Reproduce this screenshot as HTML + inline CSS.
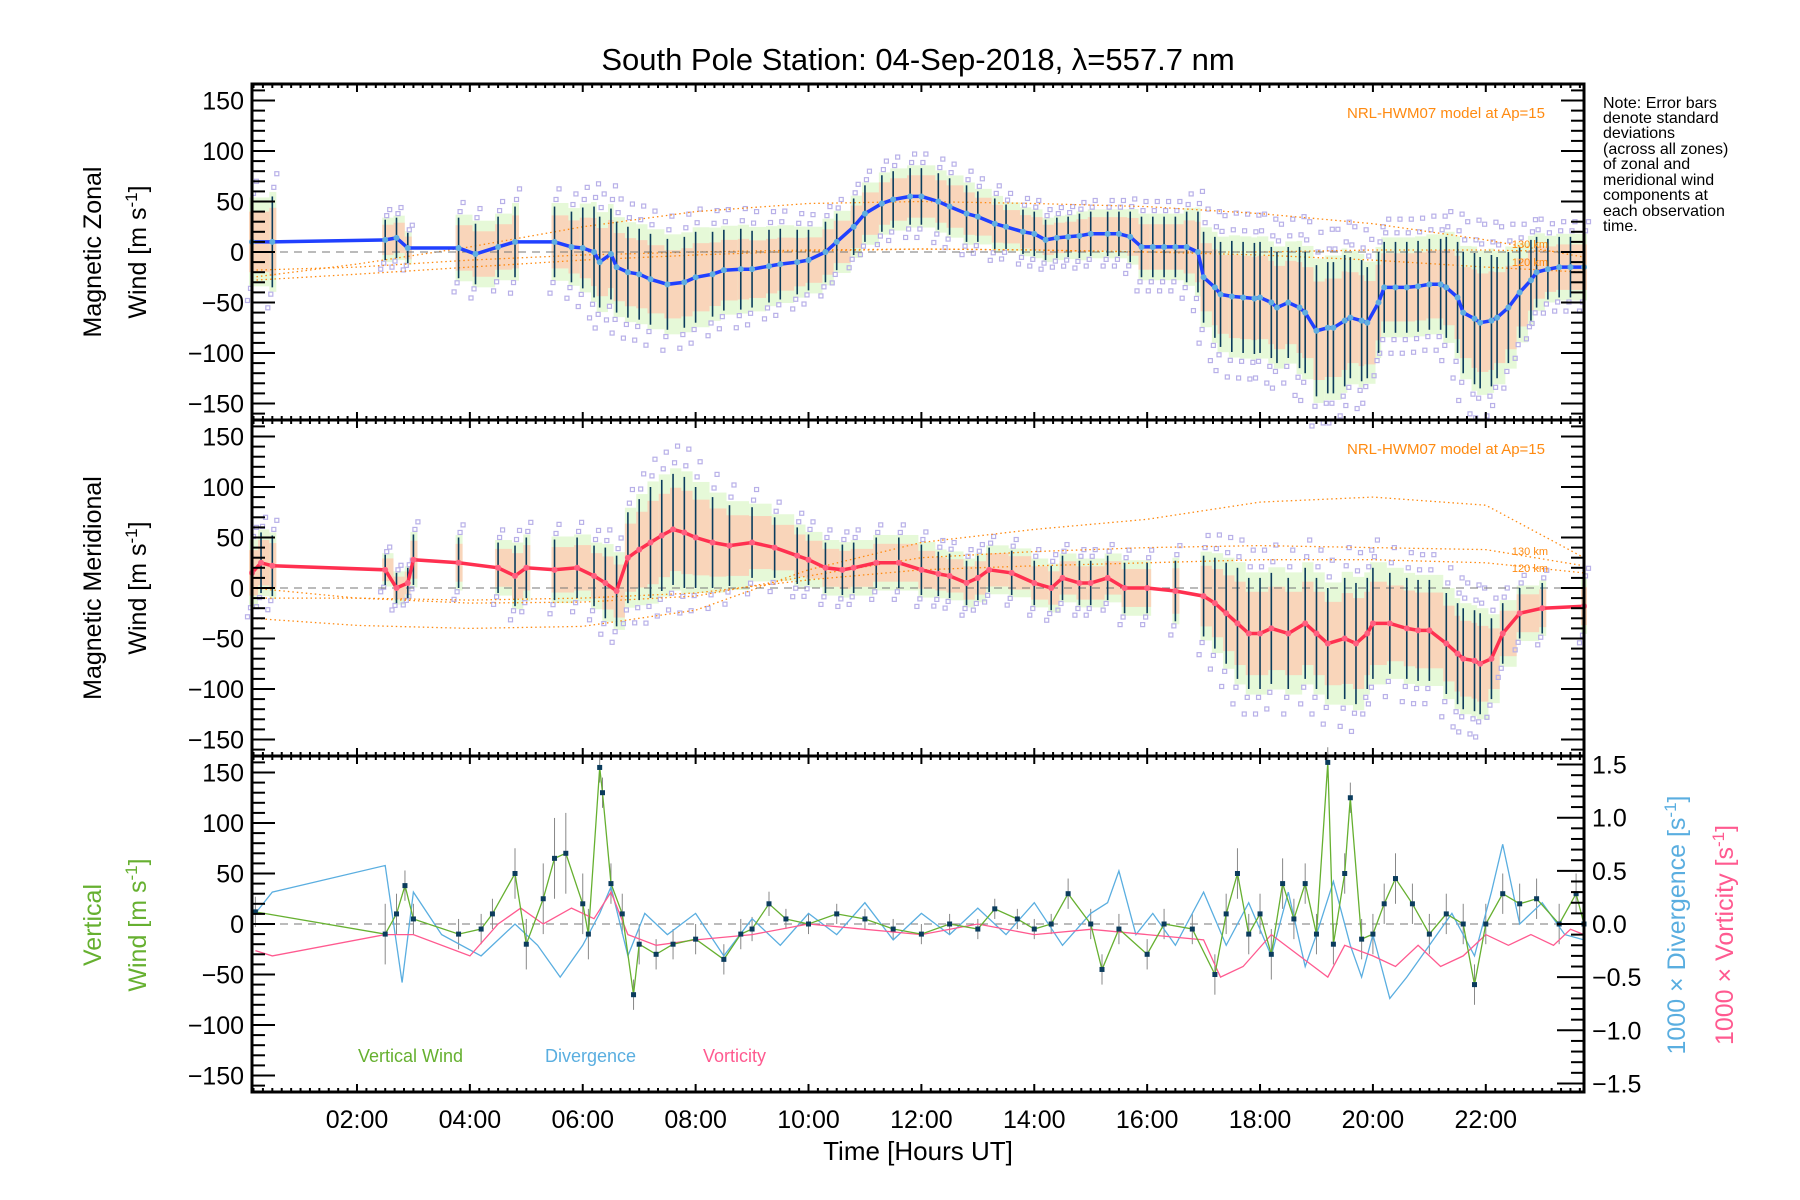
<!DOCTYPE html>
<html><head><meta charset="utf-8"><style>
html,body{margin:0;padding:0;background:#fff;}
svg{display:block;font-family:"Liberation Sans",sans-serif;}
</style></head><body>
<svg id="chart" width="1800" height="1200" viewBox="0 0 1800 1200" xmlns="http://www.w3.org/2000/svg">
<text x="918" y="70" font-size="31" text-anchor="middle">South Pole Station: 04-Sep-2018, λ=557.7 nm</text>
<g id="note" font-size="16" fill="#000">
<text x="1603" y="108">Note: Error bars</text><text x="1603" y="123">denote standard</text><text x="1603" y="138">deviations</text><text x="1603" y="154">(across all zones)</text><text x="1603" y="169">of zonal and</text><text x="1603" y="185">meridional wind</text><text x="1603" y="200">components at</text><text x="1603" y="216">each observation</text><text x="1603" y="231">time.</text>
</g>
<g id="plots"></g>
<text x="918" y="1160" font-size="26" text-anchor="middle">Time [Hours UT]</text>
<g font-size="25">
<text transform="translate(101,252) rotate(-90)" text-anchor="middle">Magnetic Zonal</text>
<text transform="translate(146,252) rotate(-90)" text-anchor="middle">Wind [m s<tspan dy="-9" font-size="17">-1</tspan><tspan dy="9">]</tspan></text>
</g>
<g font-size="25">
<text transform="translate(101,588) rotate(-90)" text-anchor="middle">Magnetic Meridional</text>
<text transform="translate(146,588) rotate(-90)" text-anchor="middle">Wind [m s<tspan dy="-9" font-size="17">-1</tspan><tspan dy="9">]</tspan></text>
</g>
<g font-size="25" fill="#66b030">
<text transform="translate(101,925) rotate(-90)" text-anchor="middle">Vertical</text>
<text transform="translate(146,925) rotate(-90)" text-anchor="middle">Wind [m s<tspan dy="-9" font-size="17">-1</tspan><tspan dy="9">]</tspan></text>
</g>
<text font-size="25" fill="#5aaee0" transform="translate(1685,925) rotate(-90)" text-anchor="middle">1000 × Divergence [s<tspan dy="-9" font-size="17">-1</tspan><tspan dy="9">]</tspan></text>
<text font-size="25" fill="#ff5a90" transform="translate(1733,935) rotate(-90)" text-anchor="middle">1000 × Vorticity [s<tspan dy="-9" font-size="17">-1</tspan><tspan dy="9">]</tspan></text>
<text x="358" y="1062" font-size="18" fill="#66b030">Vertical Wind</text>
<text x="545" y="1062" font-size="18" fill="#5aaee0">Divergence</text>
<text x="703" y="1062" font-size="18" fill="#ff5a90">Vorticity</text>
</svg>
<script>
// ---- data ----
const zonalTimes=[0.14,0.5,2.5,2.7,2.9,3.8,4.1,4.5,4.8,5.5,5.8,6.0,6.2,6.3,6.5,6.6,6.8,7.0,7.2,7.5,7.8,8.0,8.3,8.5,8.8,9.0,9.3,9.5,9.8,10.0,10.3,10.5,10.8,11.0,11.3,11.5,11.8,12.0,12.3,12.5,12.8,13.0,13.3,13.5,13.8,14.0,14.2,14.4,14.6,14.8,15.0,15.3,15.5,15.7,15.9,16.1,16.3,16.5,16.7,16.9,17.0,17.2,17.3,17.5,17.7,17.9,18.0,18.2,18.3,18.5,18.7,18.8,19.0,19.2,19.3,19.5,19.6,19.8,19.9,20.1,20.2,20.4,20.6,20.8,21.0,21.2,21.3,21.5,21.6,21.8,21.9,22.1,22.2,22.4,22.6,22.8,22.9,23.1,23.3,23.5,23.74];
const zonalMean=[10,10,12,14,4,4,-2,5,10,10,5,4,0,-10,-2,-15,-20,-22,-27,-32,-30,-25,-22,-18,-17,-17,-14,-12,-10,-8,0,10,25,38,48,52,55,55,50,45,38,35,28,25,20,18,12,14,15,16,18,18,18,15,5,5,5,5,5,0,-25,-35,-42,-44,-45,-46,-45,-50,-55,-50,-55,-60,-78,-75,-75,-68,-65,-68,-70,-50,-35,-35,-35,-34,-32,-32,-35,-45,-60,-66,-70,-68,-65,-55,-40,-28,-20,-17,-15,-15,-15];
const zonalSigma=[40,45,20,20,15,30,30,30,35,35,35,40,45,45,45,45,45,45,45,45,45,45,42,40,40,38,36,35,32,30,30,28,28,28,28,28,28,28,28,28,28,25,25,22,22,22,20,20,20,22,22,22,22,25,30,30,30,30,35,40,45,50,52,55,55,55,55,55,55,55,60,60,65,65,65,65,60,60,55,50,45,45,45,45,45,45,50,55,60,65,65,65,60,55,45,40,35,30,30,30,30];
const meridTimes=[0.14,0.3,0.5,2.5,2.7,2.9,3.0,3.8,4.5,4.8,5.0,5.5,5.9,6.2,6.4,6.6,6.8,7.0,7.2,7.4,7.6,7.8,8.0,8.3,8.6,9.0,9.4,9.8,10.0,10.3,10.6,10.8,11.2,11.6,12.0,12.3,12.5,12.8,13.0,13.2,13.6,14.0,14.3,14.5,14.8,15.0,15.3,15.6,16.0,16.5,17.0,17.2,17.4,17.6,17.8,18.0,18.2,18.5,18.8,19.0,19.2,19.5,19.7,19.9,20.0,20.3,20.6,20.8,21.0,21.3,21.5,21.6,21.8,21.9,22.1,22.3,22.6,23.0,23.74];
const meridMean=[15,25,22,18,0,5,28,25,20,12,20,18,20,12,5,-3,30,38,45,52,58,55,50,45,42,45,40,32,28,20,18,20,25,25,18,14,12,5,10,18,15,5,0,10,5,5,10,0,0,-3,-8,-15,-25,-35,-45,-45,-40,-45,-35,-45,-55,-50,-55,-45,-35,-35,-40,-42,-42,-55,-65,-70,-72,-75,-70,-45,-25,-20,-18];
const meridSigma=[30,30,30,15,15,15,25,25,25,30,30,30,30,30,35,35,45,50,55,55,55,55,50,45,40,35,30,28,25,25,25,25,25,25,25,22,22,22,22,22,22,22,22,22,22,22,22,25,25,30,40,45,50,55,55,55,55,55,55,55,55,60,60,55,55,50,50,50,50,50,50,50,50,50,40,30,25,25,25];
const zonalModelTimes=[0.14,2,4,6,8,10,12,14,16,18,20,22,23.74];
const zonalModelA=[-25,-12,5,25,40,48,50,48,45,38,28,12,-5];
const zonalModelB=[-18,-15,-8,-3,0,2,3,2,0,0,2,2,0];
const zonalModelC=[-28,-22,-15,-8,-3,1,3,2,0,-3,-8,-15,-20];
const meridModelTimes=[0.14,2,4,6,8,10,12,14,16,18,20,22,23.74];
const meridModelA=[-30,-37,-40,-38,-22,18,45,58,68,85,90,82,30];
const meridModelB=[0,-10,-15,-14,-8,12,30,36,40,42,40,38,22];
const meridModelC=[-10,-10,-12,-10,-5,8,18,22,25,28,28,25,15];
const vertTimes=[0.2,2.5,2.7,2.85,3.0,3.8,4.2,4.4,4.8,5.0,5.3,5.5,5.7,6.0,6.1,6.3,6.35,6.5,6.7,6.9,7.0,7.3,7.6,8.0,8.5,8.8,9.0,9.3,9.6,10.0,10.5,11.0,11.5,12.0,12.5,13.0,13.3,13.7,14.0,14.3,14.6,15.0,15.2,15.5,16.0,16.3,16.8,17.2,17.4,17.6,17.8,18.0,18.2,18.4,18.6,18.8,19.0,19.2,19.3,19.5,19.6,19.8,20.0,20.2,20.4,20.7,21.0,21.3,21.6,21.8,22.0,22.3,22.6,22.9,23.3,23.6,23.74];
const vertWind=[12,-10,10,38,5,-10,-5,10,50,-20,25,65,70,20,-10,155,130,40,10,-70,-20,-30,-20,-15,-35,-10,-5,20,5,0,10,5,-5,-10,0,-5,15,5,-5,0,30,0,-45,-5,-30,0,-5,-50,10,50,-10,10,-30,40,5,40,-10,160,-20,50,125,-15,-10,20,45,20,-10,10,0,-60,0,30,20,25,0,30,0];
const vertErr=[15,30,20,15,15,15,15,15,25,25,35,40,40,30,25,15,15,20,20,15,20,15,15,15,15,15,12,12,10,10,10,10,10,10,10,10,10,10,10,10,15,15,15,15,15,15,15,20,20,25,20,20,25,25,20,20,20,15,20,20,15,20,20,20,25,20,20,20,20,20,20,20,20,20,20,20,20];
const divTimes=[0.2,0.5,2.5,2.8,3.0,3.5,4.2,4.8,5.2,5.6,6.0,6.3,6.5,6.8,7.1,7.5,8.0,8.5,9.0,9.5,10.0,10.5,11.0,11.5,12.0,12.5,13.0,13.5,14.0,14.5,15.0,15.3,15.5,15.8,16.1,16.5,17.0,17.4,17.8,18.2,18.5,18.8,19.0,19.3,19.6,19.8,20.0,20.3,20.6,21.0,21.4,21.8,22.1,22.3,22.6,23.0,23.4,23.74];
const divergence=[0.1,0.3,0.55,-0.55,0.3,-0.1,-0.3,0,-0.2,-0.5,-0.2,0.1,0.35,-0.3,0.1,-0.1,0.1,-0.3,0.05,-0.2,0.1,-0.1,0.2,-0.15,0.1,-0.1,0.15,-0.1,0.2,-0.2,0.1,0.2,0.5,-0.1,0.1,-0.2,0.3,-0.2,0.2,-0.3,0.3,-0.4,-0.1,0.4,-0.2,-0.5,-0.1,-0.7,-0.5,-0.2,0.1,-0.3,0.3,0.75,0,0.2,-0.1,-0.15];
const vortTimes=[0.2,0.5,2.5,3.0,4.0,4.5,4.9,5.3,5.8,6.2,6.5,6.8,7.3,8.0,9.0,10.0,11.0,12.0,13.0,14.0,15.0,16.0,17.0,17.3,17.7,18.2,18.7,19.2,19.5,20.0,20.4,20.8,21.2,21.6,22.0,22.4,22.8,23.2,23.5,23.74];
const vorticity=[-0.25,-0.3,-0.1,-0.1,-0.3,0,0.15,0,0.15,0.05,0.3,-0.1,-0.2,-0.15,-0.1,0,-0.05,-0.1,0,-0.1,-0.05,-0.1,-0.15,-0.5,-0.4,-0.1,-0.3,-0.5,-0.2,-0.3,-0.4,-0.2,-0.4,-0.3,-0.1,-0.2,-0.1,-0.2,-0.05,-0.1];
const leftTicks=[-150,-100,-50,0,50,100,150];
const rightTicks=[-1.5,-1.0,-0.5,0.0,0.5,1.0,1.5];
const hourTicks=[2,4,6,8,10,12,14,16,18,20,22];
const hourLabels=["02:00","04:00","06:00","08:00","10:00","12:00","14:00","16:00","18:00","20:00","22:00"];

// ---- geometry ----
const L=252,R=1584,T0=0.14,T1=23.74;
const panelTops=[84,420,756],PH=336;
const NS="http://www.w3.org/2000/svg";
const root=document.getElementById('plots');
function x(t){return L+(t-T0)/(T1-T0)*(R-L);}
function yL(top,v){return top+PH/2-v*1.01;}
function yR(top,v){return top+PH/2-v*106.3;}
function el(tag,attrs,parent){const e=document.createElementNS(NS,tag);for(const k in attrs)e.setAttribute(k,attrs[k]);(parent||root).appendChild(e);return e;}
function poly(ts,vs,f,style,parent){return el('polyline',Object.assign({points:ts.map((t,i)=>x(t).toFixed(1)+','+f(vs[i]).toFixed(1)).join(' '),fill:'none'},style),parent);}

function windPanel(i,times,mean,sigma,mA,mB,mC,mT,lineColor,dotColor,name){
  const top=panelTops[i];const g=el('g',{});
  
  
  const f=v=>yL(top,v);
  // pastel bands
  times.forEach((t,k)=>{
    let w=k<times.length-1?x(times[k+1])-x(t):6;
    if(w>25)w=7;
    w=Math.max(4,w);
    const bw=el('rect',{x:x(t)-3,y:f(mean[k]+sigma[k]*1.1),width:w,height:sigma[k]*2.2*1.01,fill:'#dcf6c8',opacity:0.7},g);
    
    
    const b=el('rect',{x:x(t)-3,y:f(mean[k]+sigma[k]*0.75),width:w,height:sigma[k]*1.5*1.01,fill:'#ffc8b0',opacity:0.75},g);
    
    
  });
  // scatter
  const offs=[-1.45,-1.15,1.2,1.5];
  times.forEach((t,k)=>{offs.forEach((o,j)=>{
    const s=el('rect',{x:x(t)+(j-1.5)*3-2,y:f(mean[k]+sigma[k]*o)-2,width:4,height:4,fill:'none',stroke:'#b8b0e8','stroke-width':1.2},g);
    
    
  });});
  // models
  [mA,mB,mC].forEach(m=>{const p=poly(mT,m,f,{stroke:'#ff8a10','stroke-width':1.3,'stroke-dasharray':'1.5,3'},g);
    
    });
  // zero line
  const z=el('line',{x1:L,x2:R,y1:f(0),y2:f(0),stroke:'#777','stroke-dasharray':'8,6','stroke-width':1},g);
  
  
  // error bars
  times.forEach((t,k)=>{
    const b=el('line',{x1:x(t),x2:x(t),y1:f(mean[k]+sigma[k]),y2:f(mean[k]-sigma[k]),stroke:'#0b3c5d','stroke-width':1.6},g);
    
    
  });
  const ln=poly(times,mean,f,{stroke:lineColor,'stroke-width':3.5},g);
  
  
  times.forEach((t,k)=>{const c=el('circle',{cx:x(t),cy:f(mean[k]),r:3,fill:dotColor},g);
    
    });
  const mt=el('text',{x:1545,y:top+34,'font-size':15,fill:'#ff8a10','text-anchor':'end'},g);
  mt.textContent='NRL-HWM07 model at Ap=15';
  
  
}
windPanel(0,zonalTimes,zonalMean,zonalSigma,zonalModelA,zonalModelB,zonalModelC,zonalModelTimes,'#2040ff','#60aee0','zonal');
windPanel(1,meridTimes,meridMean,meridSigma,meridModelA,meridModelB,meridModelC,meridModelTimes,'#ff3050','#ff6080','meridional');
// km labels
[[0,248,'130 km'],[0,266,'120 km'],[1,555,'130 km'],[1,572,'120 km']].forEach(a=>{const t=el('text',{x:1548,y:a[1],'font-size':11,fill:'#ff8a10','text-anchor':'end'});t.textContent=a[2];
  
  });

// panel 3
(function(){
  const top=panelTops[2];const g=el('g',{});
  
  
  const fl=v=>yL(top,v),fr=v=>yR(top,v);
  const z=el('line',{x1:L,x2:R,y1:fl(0),y2:fl(0),stroke:'#777','stroke-dasharray':'8,6','stroke-width':1},g);
  
  
  vertTimes.forEach((t,k)=>{const b=el('line',{x1:x(t),x2:x(t),y1:fl(vertWind[k]+vertErr[k]),y2:fl(vertWind[k]-vertErr[k]),stroke:'#888','stroke-width':1},g);
    
    });
  const d=poly(divTimes,divergence,fr,{stroke:'#5aaee0','stroke-width':1.3},g);
  
  
  const v=poly(vortTimes,vorticity,fr,{stroke:'#ff5a90','stroke-width':1.3},g);
  
  
  const w=poly(vertTimes,vertWind,fl,{stroke:'#66b030','stroke-width':1.3},g);
  
  
  vertTimes.forEach((t,k)=>{const p=el('rect',{x:x(t)-2.5,y:fl(vertWind[k])-2.5,width:5,height:5,fill:'#0b3c5d'},g);
    
    });
})();

// axes frames & ticks
const ax=el('g',{stroke:'#000'});


panelTops.forEach((top,i)=>{
  const fr=el('rect',{x:L,y:top,width:R-L,height:PH,fill:'none','stroke-width':3},ax);
  
  
  for(let v=-160;v<=160;v+=10){const yy=yL(top,v);const maj=v%50===0;const len=maj?23:13;
    el('line',{x1:L,x2:L+len,y1:yy,y2:yy,'stroke-width':2},ax);
    if(i<2)el('line',{x1:R,x2:R-len,y1:yy,y2:yy,'stroke-width':2},ax);}
  if(i===2){for(let v=-1.5;v<=1.51;v+=0.1){const yy=yR(top,v);const maj=Math.abs(v*2-Math.round(v*2))<1e-6;const len=maj?27:13;el('line',{x1:R,x2:R-len,y1:yy,y2:yy,'stroke-width':2},ax);}}
  for(let m=Math.ceil(T0*6);m<=T1*6;m++){const t=m/6;const maj=m%12===0;const len=maj?8:4;
    el('line',{x1:x(t),x2:x(t),y1:top,y2:top+len,'stroke-width':2},ax);
    el('line',{x1:x(t),x2:x(t),y1:top+PH,y2:top+PH-len,'stroke-width':2},ax);}
  leftTicks.forEach(v=>{const t=el('text',{x:L-8,y:yL(top,v)+9,'font-size':25,'text-anchor':'end',stroke:'none'},ax);t.textContent=v<0?'−'+(-v):String(v);
    
    });
});
rightTicks.forEach(v=>{const t=el('text',{x:1592,y:yR(panelTops[2],v)+9,'font-size':25,stroke:'none'},ax);t.textContent=(v<0?'−':'')+Math.abs(v).toFixed(1);
  
  });
hourTicks.forEach((h,k)=>{const t=el('text',{x:x(h),y:1128,'font-size':25,'text-anchor':'middle',stroke:'none'},ax);t.textContent=hourLabels[k];
  
  });
</script>
</body></html>
